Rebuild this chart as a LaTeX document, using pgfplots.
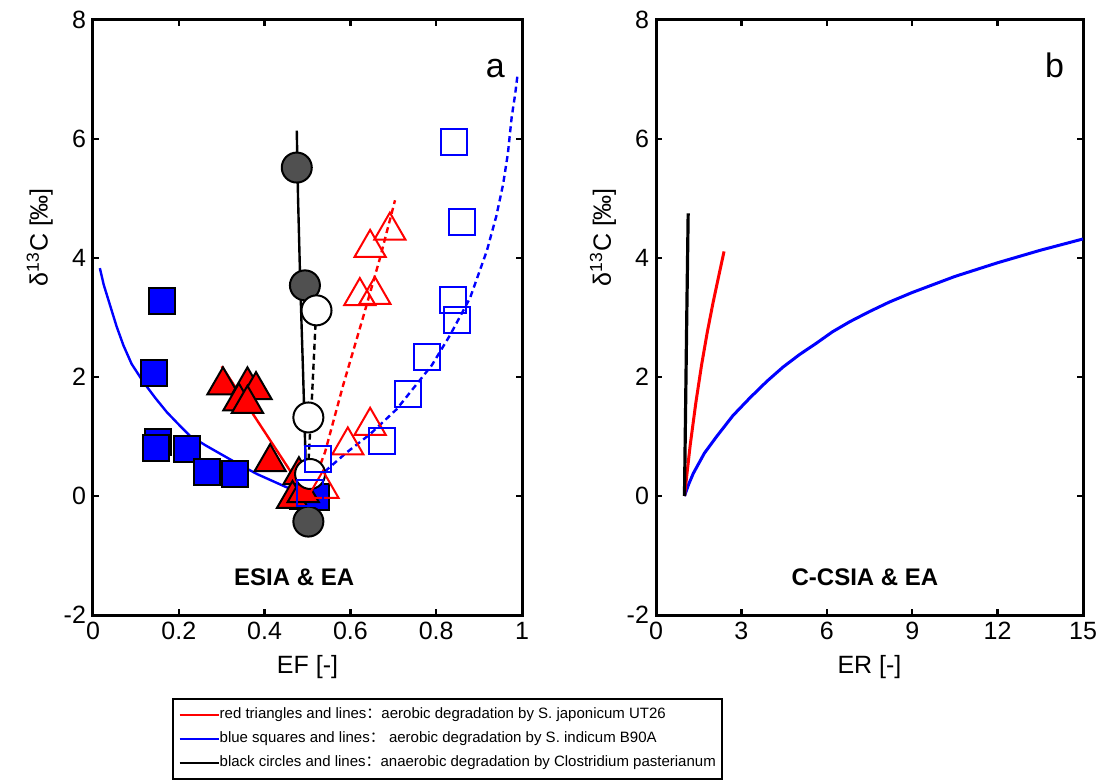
\documentclass[border=0pt]{standalone}
\usepackage{fontspec}
\setmainfont{Liberation Sans}
\newfontfamily\cjk{Noto Sans CJK SC}
\usepackage{pgfplots}
\pgfplotsset{compat=1.18}
\definecolor{circgray}{RGB}{80,80,80}

\pgfplotsset{
  panel/.style={
    scale only axis, width=214.5pt, height=297.5pt,
    ymin=-2, ymax=8, ytick={-2,0,2,4,6,8},
    axis line style={line width=1.5pt},
    every tick/.style={black, line width=1.2pt},
    major tick length=3pt, tick align=inside,
    ticklabel style={font=\fontsize{12.5}{14}\selectfont},
    label style={font=\fontsize{12.5}{14}\selectfont},
    /pgf/number format/assume math mode=true,
    ylabel={δ\textsuperscript{13}C [‰]},
    ylabel style={at={(axis description cs:-0.124,0.635)}, anchor=center},
    xlabel style={at={(axis description cs:0.5,-0.087)}, anchor=center},
  },
  fsq/.style={only marks, mark=square*, mark size=6.5pt,
    mark options={fill=blue, draw=black, line width=1pt}},
  osq/.style={only marks, mark=square, mark size=6.5pt,
    mark options={draw=blue, line width=1pt}},
  ftri/.style={only marks, mark=triangle*, mark size=9pt,
    mark options={fill=red, draw=black, line width=1pt}},
  otri/.style={only marks, mark=triangle, mark size=9pt,
    mark options={draw=red, line width=1pt}},
  fcirc/.style={only marks, mark=*, mark size=7.5pt,
    mark options={fill=circgray, draw=black, line width=1pt}},
  ocirc/.style={only marks, mark=*, mark size=7.5pt,
    mark options={fill=white, draw=black, line width=1pt}},
}

\begin{document}
\begin{tikzpicture}

% panel a: ESIA & EA
\begin{axis}[panel,
  at={(46.5pt,-307.5pt)}, anchor=south west,
  xmin=0, xmax=1, xtick={0,0.2,0.4,0.6,0.8,1},
  xlabel={EF [-]},
  legend style={at={(axis description cs:0.184,-0.1395)}, anchor=north west,
    draw=black, line width=0.8pt, font=\fontsize{7.5}{9}\selectfont,
    legend cell align=left, inner xsep=3pt, inner ysep=2pt, row sep=0pt,
    nodes={inner sep=0pt, text height=8pt, text depth=4pt},
    /tikz/every even column/.append style={column sep=3pt}},
  legend image code/.code={\draw[#1] (0pt,0pt) -- (19.5pt,0pt);},
]
% filled markers
\addplot[fsq, forget plot] coordinates {
  (0.160,3.28) (0.143,2.06) (0.152,0.90) (0.148,0.80) (0.218,0.79)
  (0.265,0.40) (0.331,0.37) (0.490,0.00) (0.520,-0.02)
};
\addplot[ftri, forget plot] coordinates {
  (0.303,1.86) (0.360,1.86) (0.380,1.78) (0.340,1.59) (0.360,1.55)
  (0.413,0.57) (0.480,0.35) (0.465,-0.05) (0.490,0.05)
};
\addplot[fcirc, forget plot] coordinates {
  (0.475,5.52) (0.494,3.54) (0.502,-0.43)
};
% open markers
\addplot[ocirc, forget plot] coordinates {
  (0.521,3.12) (0.502,1.32) (0.506,0.37)
};
\addplot[otri, forget plot] coordinates {
  (0.692,4.46) (0.646,4.17) (0.622,3.36) (0.657,3.38)
  (0.646,1.18) (0.594,0.85) (0.536,0.12)
};
\addplot[osq, forget plot] coordinates {
  (0.842,5.95) (0.859,4.60) (0.839,3.30) (0.848,2.96) (0.778,2.34)
  (0.735,1.72) (0.673,0.93) (0.525,0.62) (0.505,0.05)
};
% model lines
\addplot[blue, line width=1.2pt, forget plot] coordinates {
  (0.016,3.83) (0.025,3.55) (0.040,3.20) (0.055,2.85) (0.071,2.53)
  (0.090,2.22) (0.117,1.92) (0.145,1.65) (0.172,1.41) (0.200,1.20)
  (0.226,1.01) (0.265,0.84) (0.304,0.68) (0.343,0.52) (0.382,0.37)
  (0.444,0.17) (0.498,0.00)
};
\addplot[blue, line width=1.2pt, dash pattern=on 3pt off 2pt, forget plot] coordinates {
  (0.500,0.00) (0.537,0.39) (0.591,0.73) (0.646,1.04) (0.708,1.46)
  (0.739,1.74) (0.790,2.20) (0.832,2.70) (0.879,3.33) (0.918,4.12)
  (0.940,4.70) (0.956,5.24) (0.967,5.75) (0.976,6.37) (0.984,6.75) (0.990,7.10)
};
\addplot[red, line width=1.2pt, forget plot] coordinates {
  (0.300,2.18) (0.498,0.00)
};
\addplot[red, line width=1.2pt, dash pattern=on 3pt off 2pt, forget plot] coordinates {
  (0.506,0.07) (0.541,0.74) (0.583,1.86) (0.629,2.99) (0.669,4.00) (0.704,4.97)
};
\addplot[black, line width=1.2pt, forget plot] coordinates {
  (0.475,6.14) (0.478,5.00) (0.483,3.60) (0.490,2.00) (0.498,0.00)
};
\addplot[black, line width=1.2pt, dash pattern=on 3pt off 2pt, forget plot] coordinates {
  (0.521,3.23) (0.510,1.60) (0.498,0.00)
};
\node[font=\fontsize{17}{20}\selectfont, anchor=base] at (axis cs:0.938,7.04) {a};
\node[font=\fontsize{12}{14}\selectfont\bfseries, anchor=base] at (axis cs:0.469,-1.51) {ESIA \& EA};

\addlegendimage{red, line width=1pt}
\addlegendentry{red triangles and lines{\cjk ：}aerobic degradation by S. japonicum UT26}
\addlegendimage{blue, line width=1pt}
\addlegendentry{blue squares and lines{\cjk ：} aerobic degradation by S. indicum B90A}
\addlegendimage{black, line width=1pt}
\addlegendentry{black circles and lines{\cjk ：}anaerobic degradation by Clostridium pasterianum}
\end{axis}

% panel b: C-CSIA & EA
\begin{axis}[panel,
  at={(328pt,-307.5pt)}, anchor=south west,
  width=213.5pt,
  xmin=0, xmax=15, xtick={0,3,6,9,12,15},
  xlabel={ER [-]},
]
\addplot[blue, line width=1.5pt] coordinates {
  (1.00,0.00) (1.15,0.20) (1.31,0.38) (1.70,0.72) (2.13,1.00)
  (2.70,1.35) (3.30,1.65) (3.90,1.93) (4.47,2.17) (5.05,2.38)
  (5.64,2.57) (6.20,2.76) (6.81,2.93) (7.50,3.10) (8.20,3.26)
  (9.00,3.42) (10.50,3.69) (12.00,3.92) (13.50,4.13) (15.00,4.32)
};
\addplot[red, line width=1.5pt] coordinates {
  (1.00,0.00) (1.20,0.85) (1.40,1.57) (1.60,2.20) (1.80,2.75)
  (2.00,3.24) (2.20,3.69) (2.39,4.11)
};
\addplot[black, line width=1.6pt] coordinates {
  (1.00,0.00) (1.04,1.50) (1.08,3.00) (1.13,4.75)
};
\node[font=\fontsize{17}{20}\selectfont, anchor=base] at (axis cs:14.0,7.04) {b};
\node[font=\fontsize{12}{14}\selectfont\bfseries, anchor=base] at (axis cs:7.34,-1.51) {C-CSIA \& EA};
\end{axis}

\pgfresetboundingbox
\path[use as bounding box] (0pt,0pt) rectangle (551pt,-390pt);
\end{tikzpicture}
\end{document}
